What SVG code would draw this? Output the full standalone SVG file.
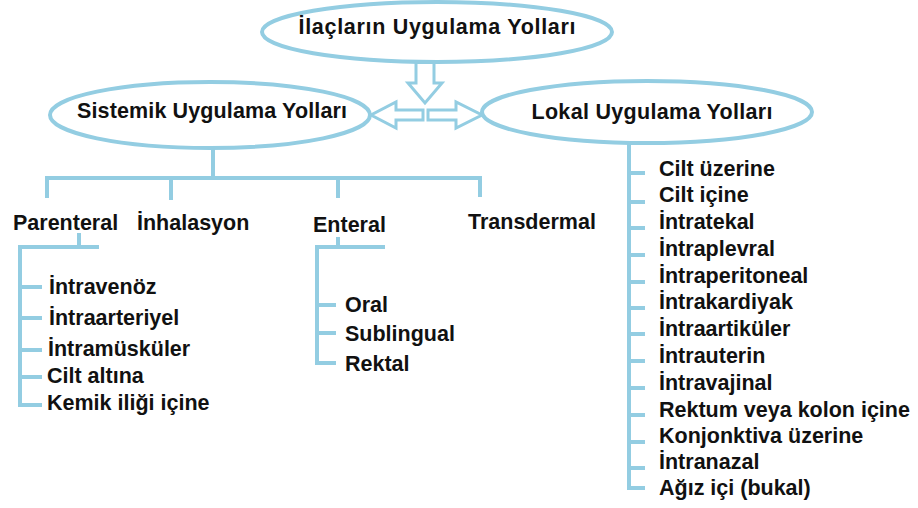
<svg xmlns="http://www.w3.org/2000/svg" width="918" height="508" viewBox="0 0 918 508">
<style>
.ln{fill:none;stroke:#93CDE2;stroke-width:4}
.el{fill:#fff;stroke:#93CDE2;stroke-width:4}
.ar{fill:#fff;stroke:#93CDE2;stroke-width:3;stroke-linejoin:miter}
text{font-family:"Liberation Sans",Arial,sans-serif;font-weight:bold;fill:#111;font-size:21.5px}
.h{text-anchor:middle}
</style>
<rect width="918" height="508" fill="#fff"/>
<g id="connectors">
<path class="ln" d="M213 148V178M47 198V178H480V197M171 178V200M338 178V198"/>
<path class="ln" d="M79 233V247M99 247H20V405H42M20 287H42M20 318H42M20 350H42M20 377H42"/>
<path class="ln" d="M338 237V247M385 247H317V363H336M317 305H336M317 333H336"/>
<path class="ln" d="M629 144V488H645M629 173H645M629 202H645M629 228H645M629 255H645M629 282H645M629 308H645M629 334H645M629 361H645M629 388H645M629 415H645M629 442H645M629 468H645"/>
<path class="ar" d="M416 62V83H408L425 103L442 83H434V62Z"/>
<path class="ar" d="M423 110H396V102L371 115L396 128V120H423Z"/>
<path class="ar" d="M428 110H456V102L482 115L456 128V120H428Z"/>
</g>
<g id="root"><ellipse class="el" cx="437" cy="32" rx="175" ry="30"/><text class="h" x="437" y="34" textLength="277">İlaçların Uygulama Yolları</text></g>
<g id="sistemik"><ellipse class="el" cx="210" cy="115" rx="160" ry="33"/><text class="h" x="212" y="118" textLength="270">Sistemik Uygulama Yolları</text></g>
<g id="lokal"><ellipse class="el" cx="647" cy="112" rx="165" ry="31"/><text class="h" x="652" y="119" textLength="241">Lokal Uygulama Yolları</text></g>
<g id="parenteral"><text x="13" y="230">Parenteral</text></g>
<g id="inhalasyon"><text x="137" y="230">İnhalasyon</text></g>
<g id="enteral"><text x="313" y="232">Enteral</text></g>
<g id="transdermal"><text x="468" y="229">Transdermal</text></g>
<g id="p-items">
<text x="49" y="294">İntravenöz</text>
<text x="49" y="325">İntraarteriyel</text>
<text x="48" y="356">İntramüsküler</text>
<text x="47" y="383">Cilt altına</text>
<text x="47" y="410">Kemik iliği içine</text>
</g>
<g id="e-items">
<text x="345" y="312">Oral</text>
<text x="345" y="341">Sublingual</text>
<text x="345" y="371">Rektal</text>
</g>
<g id="l-items">
<text x="659" y="176">Cilt üzerine</text>
<text x="659" y="202">Cilt içine</text>
<text x="659" y="229">İntratekal</text>
<text x="659" y="256">İntraplevral</text>
<text x="659" y="283">İntraperitoneal</text>
<text x="659" y="309">İntrakardiyak</text>
<text x="659" y="336">İntraartiküler</text>
<text x="659" y="363">İntrauterin</text>
<text x="659" y="390">İntravajinal</text>
<text x="659" y="417">Rektum veya kolon içine</text>
<text x="659" y="443">Konjonktiva üzerine</text>
<text x="659" y="469">İntranazal</text>
<text x="659" y="495">Ağız içi (bukal)</text>
</g>
</svg>
